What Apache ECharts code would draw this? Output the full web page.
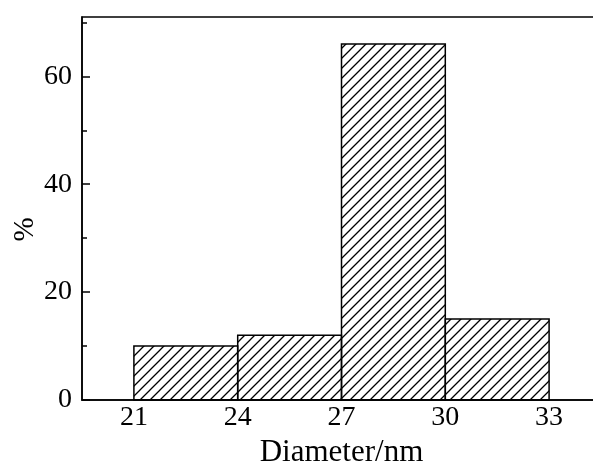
<!DOCTYPE html>
<html lang="en">
<head>
    <meta charset="utf-8">
    <title>Diameter histogram</title>
    <script src="https://cdn.jsdelivr.net/npm/echarts@6/dist/echarts.min.js"></script>
    <style>
        html, body { margin: 0; padding: 0; background: #fff; }
        #main { width: 593px; height: 463px; }
    </style>
</head>
<body>
    <div id="main"></div>
    <script type="text/javascript">
        // bins (nm) and share of particles (%)
        let binStart = [21, 24, 27, 30];
        let binEnd = [24, 27, 30, 33];
        let percent = [10, 12, 66, 15];

        let xTickLabels = [21, 24, 27, 30, 33];
        let yMajorTicks = [0, 20, 40, 60];
        let yMinorTicks = [10, 30, 50, 70];

        const font = 'Liberation Serif, Times New Roman, serif';

        // hatch pattern
        function makeHatch(){
            let s = 10;
            let c = document.createElement('canvas');
            c.width = s;
            c.height = s;
            let ctx = c.getContext('2d');
            ctx.strokeStyle = '#000';
            ctx.lineWidth = 1.3;
            ctx.beginPath();
            ctx.moveTo(0, s); ctx.lineTo(s, 0);
            ctx.moveTo(-2, 2); ctx.lineTo(2, -2);
            ctx.moveTo(s - 2, s + 2); ctx.lineTo(s + 2, s - 2);
            ctx.stroke();
            return c;
        }
        let hatch = makeHatch();

        let histData = binStart.map((v, i) => [v, binEnd[i], percent[i]]);

        let Chart = echarts.init(document.getElementById('main'));

        let option = {
            backgroundColor: '#fff',
            animation: false,
            grid: {
                left: 82, top: 17, right: -8, bottom: 63,
                outerBoundsMode: 'none',
                containLabel: false,
                show: true, borderColor: '#000', borderWidth: 1.5
            },
            xAxis: {
                type: 'value',
                min: 19.5, max: 34.5,
                name: 'Diameter/nm',
                nameLocation: 'middle',
                nameGap: 37,
                nameMoveOverlap: false,
                nameTextStyle: { fontFamily: font, fontSize: 31, color: '#000' },
                axisLine: { lineStyle: { color: '#000', width: 1.5 } },
                axisTick: { show: false },
                splitLine: { show: false },
                axisLabel: {
                    customValues: xTickLabels,
                    fontFamily: font, fontSize: 28, color: '#000', margin: 4
                }
            },
            yAxis: [
                {
                    type: 'value',
                    min: 0, max: 71,
                    name: '%',
                    nameLocation: 'middle',
                    nameGap: 42,
                    nameMoveOverlap: false,
                    nameTextStyle: { fontFamily: font, fontSize: 29, color: '#000', padding: [0, 42, 0, 0] },
                    axisLine: { lineStyle: { color: '#000', width: 1.5 } },
                    axisTick: { inside: true, length: 8, customValues: yMajorTicks, lineStyle: { color: '#000', width: 1.5 } },
                    axisLabel: { customValues: yMajorTicks, fontFamily: font, fontSize: 28, color: '#000', margin: 10 },
                    splitLine: { show: false }
                },
                {
                    type: 'value',
                    position: 'left',
                    min: 0, max: 71,
                    axisLine: { show: false },
                    axisTick: { inside: true, length: 5, customValues: yMinorTicks, lineStyle: { color: '#000', width: 1.5 } },
                    axisLabel: { show: false },
                    splitLine: { show: false }
                }
            ],
            series: [
                {
                    type: 'custom',
                    data: histData,
                    encode: { x: [0, 1], y: 2 },
                    renderItem: function(params, api){
                        let p0 = api.coord([api.value(0), 0]);
                        let p1 = api.coord([api.value(1), api.value(2)]);
                        return {
                            type: 'rect',
                            shape: { x: p0[0], y: p1[1], width: p1[0] - p0[0], height: p0[1] - p1[1] },
                            style: { fill: { image: hatch, repeat: 'repeat' }, stroke: '#000', lineWidth: 1.5 }
                        };
                    }
                }
            ]
        };

        Chart.setOption(option);
    </script>
</body>
</html>
